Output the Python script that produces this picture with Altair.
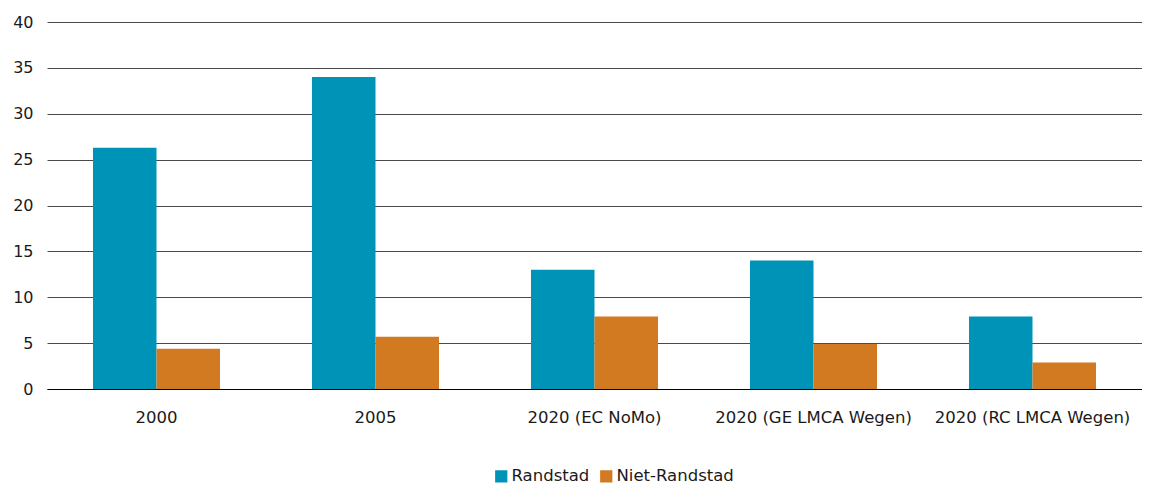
import altair as alt
import pandas as pd

categories = ["2000", "2005", "2020 (EC NoMo)", "2020 (GE LMCA Wegen)", "2020 (RC LMCA Wegen)"]
series = ["Randstad", "Niet-Randstad"]
randstad = [26.3, 34.0, 13.0, 14.0, 7.9]
niet_randstad = [4.4, 5.7, 7.9, 4.9, 2.9]
colors = ["#0093b8", "#d17a21"]

rows = []
for c, r, n in zip(categories, randstad, niet_randstad):
    rows.append({"cat": c, "serie": series[0], "v": r})
    rows.append({"cat": c, "serie": series[1], "v": n})
df = pd.DataFrame(rows)

FONT = "DejaVu Sans"

chart = alt.Chart(df).mark_bar().encode(
    x=alt.X("cat:N", sort=categories, title=None,
            scale=alt.Scale(paddingInner=0.42, paddingOuter=0.21),
            axis=alt.Axis(labelAngle=0, ticks=False, domain=True, domainColor="#000000",
                          labelPadding=20, labelFontSize=16.5, labelFont=FONT,
                          labelLimit=400, labelColor="#1a1a1a")),
    xOffset=alt.XOffset("serie:N", sort=series),
    y=alt.Y("v:Q", title=None,
            scale=alt.Scale(domain=[0, 40]),
            axis=alt.Axis(values=[0, 5, 10, 15, 20, 25, 30, 35, 40], ticks=False, domain=False,
                          grid=True, gridColor="#4a4a4a", gridWidth=1,
                          labelPadding=14, labelFontSize=16, labelFont=FONT,
                          labelColor="#1a1a1a")),
    color=alt.Color("serie:N", sort=series, title=None,
                    scale=alt.Scale(domain=series, range=colors),
                    legend=alt.Legend(orient="none", legendX=446, legendY=446,
                                      direction="horizontal", symbolType="square",
                                      symbolSize=150, symbolStrokeWidth=0,
                                      labelFontSize=16.5, labelFont=FONT, labelColor="#1a1a1a",
                                      labelOffset=2, columnPadding=8)),
).properties(
    width=1095, height=367,
    autosize=alt.AutoSizeParams(type="none"),
    padding={"left": 39, "top": 14, "right": 0, "bottom": 98},
).configure(background="white").configure_view(stroke=None)

chart.save("out.html", embed_options={"renderer": "svg", "actions": False})
